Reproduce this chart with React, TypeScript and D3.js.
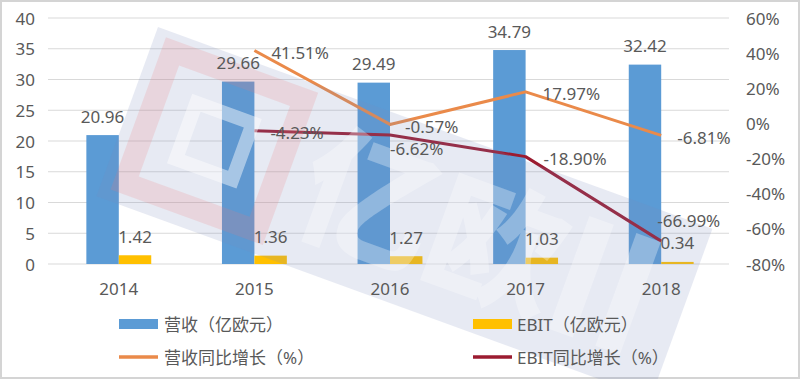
import React from "react";
import * as d3 from "d3";

const years = ["2014", "2015", "2016", "2017", "2018"];
const revenue = [20.96, 29.66, 29.49, 34.79, 32.42];
const ebit = [1.42, 1.36, 1.27, 1.03, 0.34];
const revGrowth: (number | null)[] = [null, 41.51, -0.57, 17.97, -6.81];
const ebitGrowth: (number | null)[] = [null, -4.23, -6.62, -18.9, -66.99];
const leftTicks = [0, 5, 10, 15, 20, 25, 30, 35, 40];
const rightTicks = [-80, -60, -40, -20, 0, 20, 40, 60];
const legendLabels = ["营收（亿欧元）", "EBIT（亿欧元）", "营收同比增长（%）", "EBIT同比增长（%）"];

const W = 800;
const H = 379;
const FONT = "'Noto Sans', 'Noto Sans CJK SC', sans-serif";
const TXT = "#595959";
const BLUE = "#5B9BD5";
const YELLOW = "#FFC000";
const ORANGE = "#EA8A4A";
const DARKRED = "#9B1B30";

export default function App() {
  const x = d3.scaleBand<string>().domain(years).range([51, 729]).padding(0);
  const bw = x.bandwidth();
  const sub = d3.scaleBand<string>().domain(["rev", "ebit"]).range([0, bw]).paddingInner(0).paddingOuter(1.09);
  const yL = d3.scaleLinear().domain([0, 40]).range([264, 18]);
  const yR = d3.scaleLinear().domain([-80, 60]).range([264, 18]);
  const cx = (i: number) => (x(years[i]) as number) + bw / 2;

  const lineGen = d3
    .line<number | null>()
    .defined((d) => d !== null)
    .x((_, i) => cx(i))
    .y((d) => yR(d as number));

  const fmtPct = (v: number) => v.toFixed(2) + "%";

  const revOff: [number, number][] = [[0, 0], [17, 2], [15, 2], [17, 2], [16, 2]];
  const ebitOff: [number, number][] = [[0, 0], [16, 2], [0, 13], [18, 2], [-4, -21]];

  return (
    <svg
      width={W}
      height={H}
      style={{ position: "fixed", left: 0, top: 0, background: "#fff" }}
      fontFamily={FONT}
    >
      <rect x={0} y={0} width={W} height={H} fill="#fff" />
      <rect x={1} y={1} width={W - 2} height={H - 2} fill="none" stroke="#d4d4d4" strokeWidth={2} />

      {leftTicks.map((t) => (
        <line key={t} x1={48} x2={729} y1={yL(t)} y2={yL(t)} stroke="#d9d9d9" strokeWidth={1} />
      ))}

      {years.map((yr, i) => {
        const x0 = x(yr) as number;
        return (
          <g key={yr}>
            <rect x={x0 + (sub("rev") as number)} y={yL(revenue[i])} width={sub.bandwidth()} height={yL(0) - yL(revenue[i])} fill={BLUE} />
            <rect x={x0 + (sub("ebit") as number)} y={yL(ebit[i])} width={sub.bandwidth()} height={yL(0) - yL(ebit[i])} fill={YELLOW} />
          </g>
        );
      })}

      <path d={lineGen(revGrowth) || ""} fill="none" stroke={ORANGE} strokeWidth={3} strokeLinejoin="round" />
      <path d={lineGen(ebitGrowth) || ""} fill="none" stroke={DARKRED} strokeWidth={3} strokeLinejoin="round" />

      {/* watermark */}
      <g transform="translate(158,27) rotate(20)" pointerEvents="none">
        <rect x={0} y={0} width={590} height={180} fill="rgb(120,140,190)" fillOpacity={0.18} />
        <rect x={22} y={18} width={140} height={140} fill="none" stroke="rgb(240,120,120)" strokeOpacity={0.18} strokeWidth={22} />
        <rect x={62} y={58} width={60} height={60} fill="none" stroke="#fff" strokeOpacity={0.45} strokeWidth={14} />
        <text x={190} y={140} fontSize={135} fontWeight={900} fill="#fff" fillOpacity={0.3} fontFamily="'Noto Sans CJK SC', sans-serif">
          亿欧
        </text>
        <rect x={470} y={30} width={26} height={120} fill="#fff" fillOpacity={0.3} />
        <rect x={520} y={30} width={26} height={120} fill="#fff" fillOpacity={0.3} />
      </g>

      {leftTicks.map((t) => (
        <text key={t} x={35} y={yL(t)} textAnchor="end" dominantBaseline="central" fontSize={17} fill={TXT}>
          {t}
        </text>
      ))}
      {rightTicks.map((t) => (
        <text key={t} x={746} y={yR(t)} textAnchor="start" dominantBaseline="central" fontSize={17} fill={TXT}>
          {t + "%"}
        </text>
      ))}

      {years.map((yr, i) => {
        const x0 = x(yr) as number;
        return (
          <g key={"bl" + yr}>
            <text x={x0 + (sub("rev") as number) + sub.bandwidth() / 2} y={yL(revenue[i]) - 19} textAnchor="middle" dominantBaseline="central" fontSize={17} fill={TXT}>
              {revenue[i].toFixed(2)}
            </text>
            <text x={x0 + (sub("ebit") as number) + sub.bandwidth() / 2} y={yL(ebit[i]) - 19} textAnchor="middle" dominantBaseline="central" fontSize={17} fill={TXT}>
              {ebit[i].toFixed(2)}
            </text>
          </g>
        );
      })}

      {revGrowth.map((v, i) =>
        v === null ? null : (
          <text key={"rg" + i} x={cx(i) + revOff[i][0]} y={yR(v) + revOff[i][1]} dominantBaseline="central" fontSize={17} fill={TXT}>
            {fmtPct(v)}
          </text>
        )
      )}
      {ebitGrowth.map((v, i) =>
        v === null ? null : (
          <text key={"eg" + i} x={cx(i) + ebitOff[i][0]} y={yR(v) + ebitOff[i][1]} dominantBaseline="central" fontSize={17} fill={TXT}>
            {fmtPct(v)}
          </text>
        )
      )}

      {years.map((yr, i) => (
        <text key={"x" + yr} x={cx(i)} y={288} textAnchor="middle" dominantBaseline="central" fontSize={17} fill={TXT}>
          {yr}
        </text>
      ))}

      <rect x={119} y={319} width={39} height={10} fill={BLUE} />
      <text x={164} y={324} dominantBaseline="central" fontSize={17} fill={TXT}>{legendLabels[0]}</text>
      <rect x={473} y={319} width={39} height={10} fill={YELLOW} />
      <text x={517} y={324} dominantBaseline="central" fontSize={17} fill={TXT}>{legendLabels[1]}</text>
      <line x1={119} x2={158} y1={357} y2={357} stroke={ORANGE} strokeWidth={3.5} />
      <text x={164} y={357} dominantBaseline="central" fontSize={17} fill={TXT}>{legendLabels[2]}</text>
      <line x1={473} x2={512} y1={357} y2={357} stroke={DARKRED} strokeWidth={3.5} />
      <text x={517} y={357} dominantBaseline="central" fontSize={17} fill={TXT}>{legendLabels[3]}</text>
    </svg>
  );
}
